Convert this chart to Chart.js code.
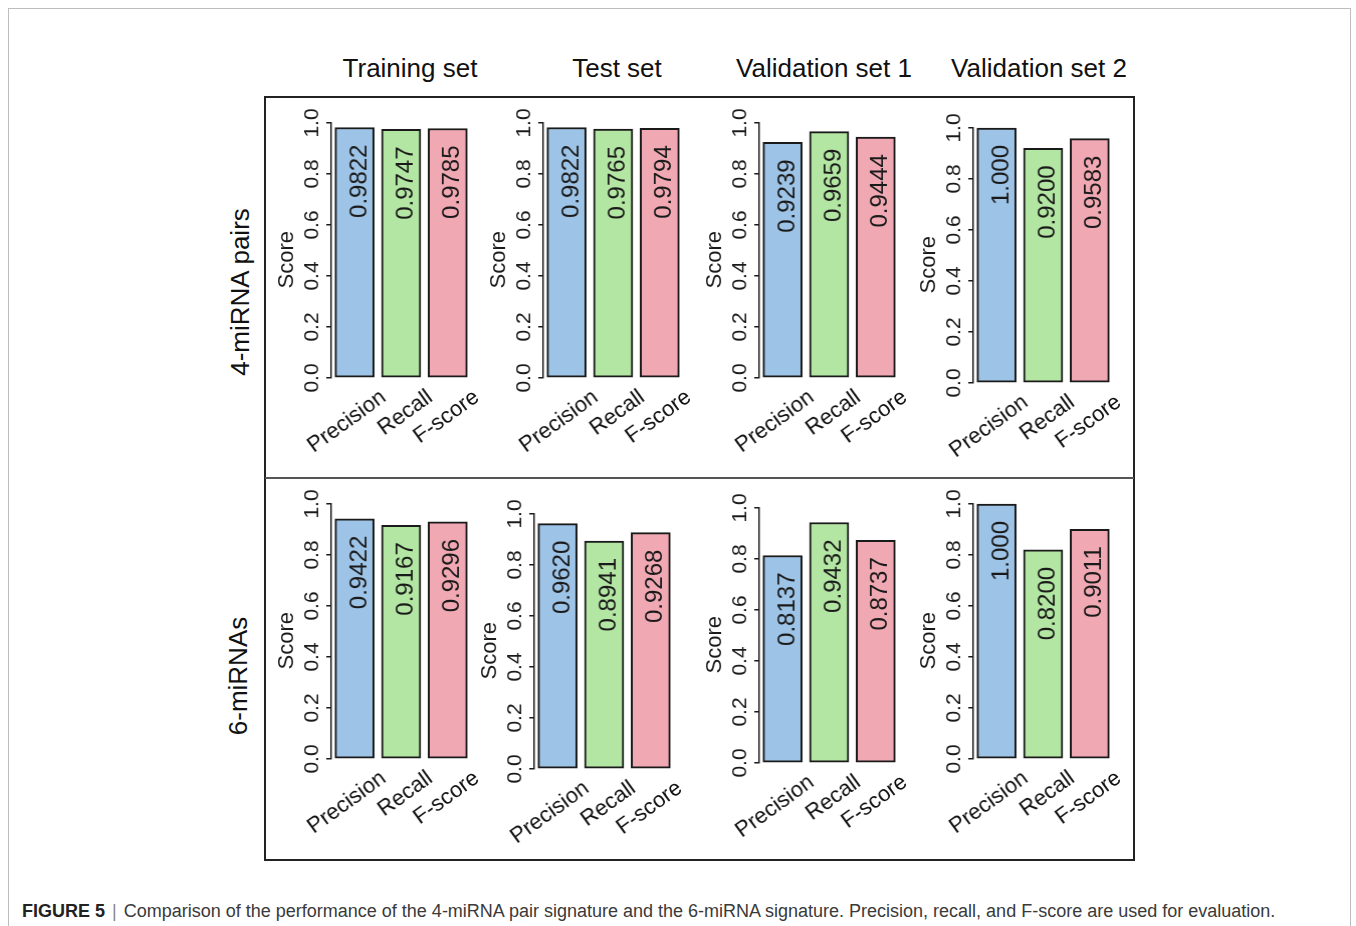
<!DOCTYPE html>
<html>
<head>
<meta charset="utf-8">
<script src="https://cdn.jsdelivr.net/npm/chart.js@4.4.0/dist/chart.umd.min.js"></script>
<style>
html,body{margin:0;padding:0;background:#fff;width:1356px;height:926px;overflow:hidden;
  font-family:"Liberation Sans",Arial,Helvetica,sans-serif;}
#frame{position:absolute;left:8px;top:8px;width:1343px;height:1000px;border:1px solid #bdbdbd;box-sizing:border-box;}
#box{position:absolute;left:264px;top:96px;width:871px;height:765px;border:2px solid #222;box-sizing:border-box;}
#divider{position:absolute;left:265px;top:477px;width:869px;height:2px;background:#555;}
.coltitle{position:absolute;top:55px;font-size:26px;line-height:26px;color:#111;white-space:nowrap;transform:translateX(-50%);}
.rowtitle{position:absolute;font-size:26px;line-height:26px;color:#111;white-space:nowrap;transform:translate(-50%,-50%) rotate(-90deg);}
.panel{position:absolute;}
#caption{position:absolute;left:22px;top:902px;font-size:18px;line-height:18px;color:#3a3a3a;white-space:nowrap;}
#caption b{color:#222;}
#caption .sep{color:#888;padding:0 7px;}
</style>
</head>
<body>
<div id="frame"></div>
<div id="box"></div>
<div id="divider"></div>
<div id="holder"></div>
<div id="caption"><b>FIGURE 5</b><span class="sep">|</span>Comparison of the performance of the 4-miRNA pair signature and the 6-miRNA signature. Precision, recall, and F-score are used for evaluation.</div>
<script>
// ---------------- data ----------------
const categories = ['Precision', 'Recall', 'F-score'];
const setTitles = ['Training set', 'Test set', 'Validation set 1', 'Validation set 2'];
const rowTitles = ['4-miRNA pairs', '6-miRNAs'];
const yTickValues = [0.0, 0.2, 0.4, 0.6, 0.8, 1.0];
const yAxisTitle = 'Score';

const pairTraining    = [0.9822, 0.9747, 0.9785];
const pairTest        = [0.9822, 0.9765, 0.9794];
const pairValidation1 = [0.9239, 0.9659, 0.9444];
const pairValidation2 = [1.000, 0.9200, 0.9583];

const mirTraining     = [0.9422, 0.9167, 0.9296];
const mirTest         = [0.9620, 0.8941, 0.9268];
const mirValidation1  = [0.8137, 0.9432, 0.8737];
const mirValidation2  = [1.000, 0.8200, 0.9011];

// ---------------- styles / layout ----------------
const barColors = ['#9dc3e6', '#b3e6a3', '#f0a8b3'];
const FONT = '"Liberation Sans", Arial, Helvetica, sans-serif';
const panelSeries = [pairTraining, pairTest, pairValidation1, pairValidation2,
                     mirTraining, mirTest, mirValidation1, mirValidation2];
// axis line x and pixel of y=1.0 for each panel
const panelLayout = [
  {axisX: 331, top: 123}, {axisX: 543, top: 123}, {axisX: 759, top: 123}, {axisX: 973, top: 128},
  {axisX: 331, top: 504}, {axisX: 534, top: 514}, {axisX: 759, top: 508}, {axisX: 973, top: 504}
];
const titleX = [410, 617, 824, 1039];
const rowTitlePos = [{x: 240, y: 292}, {x: 238, y: 676}];

const AXIS_W = 60, PAD_TOP = 25, PLOT_H = 255, PLOT_W = 139.5, PAD_RIGHT = 8, PAD_BOTTOM = 90;

// titles
setTitles.forEach((t, i) => {
  const d = document.createElement('div');
  d.className = 'coltitle'; d.textContent = t; d.style.left = titleX[i] + 'px';
  document.body.appendChild(d);
});
rowTitles.forEach((t, i) => {
  const d = document.createElement('div');
  d.className = 'rowtitle'; d.textContent = t;
  d.style.left = rowTitlePos[i].x + 'px'; d.style.top = rowTitlePos[i].y + 'px';
  document.body.appendChild(d);
});

const rLabels = {
  id: 'rLabels',
  afterDatasetsDraw(chart) {
    const {ctx} = chart;
    const xs = chart.scales.x, ys = chart.scales.y;
    const meta = chart.getDatasetMeta(0);
    const data = chart.data.datasets[0].data;
    ctx.save();
    ctx.fillStyle = '#1a1a1a';
    ctx.font = '24px ' + FONT;
    meta.data.forEach((bar, i) => {
      ctx.save();
      ctx.translate(bar.x + 5, bar.y + 17);
      ctx.rotate(-Math.PI / 2);
      ctx.textAlign = 'right';
      ctx.textBaseline = 'middle';
      ctx.fillText(Number(data[i]).toPrecision(4), 0, 0);
      ctx.restore();
    });
    ctx.fillStyle = '#111';
    ctx.font = '22px ' + FONT;
    xs.getLabels().forEach((lab, i) => {
      const px = xs.getPixelForValue(i);
      ctx.save();
      ctx.translate(px + 29, ys.bottom + 17);
      ctx.rotate(-36 * Math.PI / 180);
      ctx.textAlign = 'right';
      ctx.textBaseline = 'middle';
      ctx.fillText(lab, 0, 0);
      ctx.restore();
    });
    ctx.restore();
  }
};

const holder = document.getElementById('holder');
panelSeries.forEach((series, p) => {
  const L = panelLayout[p];
  const w = AXIS_W + PLOT_W + PAD_RIGHT, h = PAD_TOP + PLOT_H + PAD_BOTTOM;
  const div = document.createElement('div');
  div.className = 'panel';
  div.style.left = (L.axisX - AXIS_W) + 'px';
  div.style.top = (L.top - PAD_TOP) + 'px';
  div.style.width = w + 'px'; div.style.height = h + 'px';
  const cv = document.createElement('canvas');
  cv.width = w; cv.height = h;
  cv.style.width = w + 'px'; cv.style.height = h + 'px';
  div.appendChild(cv); holder.appendChild(div);

  new Chart(cv, {
    type: 'bar',
    data: {
      labels: categories,
      datasets: [{
        data: series,
        backgroundColor: barColors,
        borderColor: '#1a1a1a',
        borderWidth: 2,
        borderSkipped: false,
        barThickness: 39,
        clip: false
      }]
    },
    options: {
      responsive: false,
      animation: false,
      devicePixelRatio: 1,
      layout: {padding: {top: PAD_TOP, right: PAD_RIGHT, bottom: PAD_BOTTOM, left: 0}},
      plugins: {legend: {display: false}, tooltip: {enabled: false}, title: {display: false}},
      scales: {
        x: {display: false, offset: true},
        y: {
          min: 0, max: 1,
          afterBuildTicks: s => { s.ticks = yTickValues.map(v => ({value: v})); },
          afterFit: s => { s.width = AXIS_W; },
          grid: {display: true, drawOnChartArea: false, drawTicks: true, tickLength: 5,
                 color: '#1a1a1a', lineWidth: 1.5},
          border: {display: true, color: '#1a1a1a', width: 1.5},
          ticks: {
            minRotation: 90, maxRotation: 90, crossAlign: 'center', padding: -1,
            color: '#1a1a1a', font: {family: FONT, size: 21},
            autoSkip: false,
            callback: v => Number(v).toFixed(1)
          },
          title: {display: true, text: yAxisTitle + '\u00a0\u00a0\u00a0', color: '#1a1a1a',
                  font: {family: FONT, size: 22, lineHeight: 1.2}, padding: {top: 3, bottom: 0}}
        }
      }
    },
    plugins: [rLabels]
  });
});
</script>
</body>
</html>
